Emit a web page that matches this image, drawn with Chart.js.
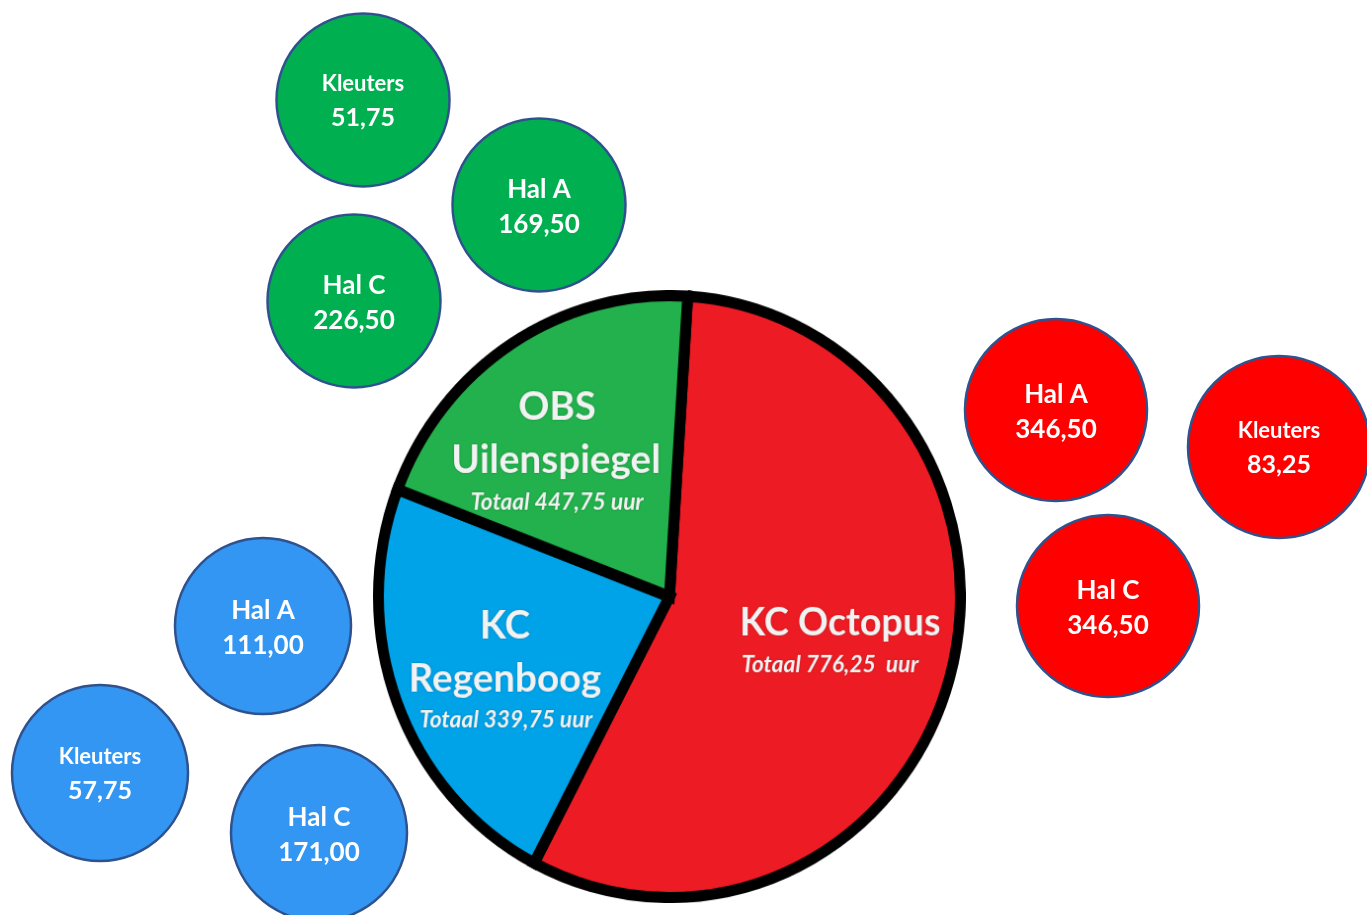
<!DOCTYPE html>
<html><head><meta charset="utf-8">
<script src="https://cdn.jsdelivr.net/npm/chart.js@4.4.1/dist/chart.umd.min.js"></script>
<style>
html,body{margin:0;padding:0;background:#fff;overflow:hidden;width:1367px;height:915px}
#bub{position:absolute;left:0;top:0}
#pieWrap{position:absolute;left:373px;top:290px;width:600px;height:600px;transform-origin:0 0;transform:scale(0.988,1.022)}
</style></head><body>
<canvas id="bub" width="1367" height="915"></canvas>
<div id="pieWrap"><canvas id="pie" width="600" height="600"></canvas></div>
<script>
// ---- data ----
const schools = ['KC Octopus', 'KC Regenboog', 'OBS Uilenspiegel'];
const schoolTotals = [776.25, 339.75, 447.75];          // uur, as labelled
const sliceShares = [56.7, 23.1, 20.2];                  // slice sizes as drawn (%)

const octopusNames = ['Hal A', 'Kleuters', 'Hal C'];
const octopusHours = [346.50, 83.25, 346.50];
const regenboogNames = ['Hal A', 'Kleuters', 'Hal C'];
const regenboogHours = [111.00, 57.75, 171.00];
const uilenNames = ['Kleuters', 'Hal A', 'Hal C'];
const uilenHours = [51.75, 169.50, 226.50];

// ---- layout (bubble placement on the page) ----
const octopusX = [1056, 1279, 1108], octopusY = [410, 447, 606], octopusR = [91, 91, 91];
const regenboogX = [263, 100, 319], regenboogY = [626, 773, 833], regenboogR = [88, 88, 88];
const uilenX = [363, 539, 354], uilenY = [100, 205, 301], uilenR = [86.5, 86.5, 86.5];

const fmt = v => v.toFixed(2).replace('.', ',');
const FONT = 'Lato, "Open Sans", sans-serif';

function pts(xs, ys, rs){ return xs.map((x,i)=>({x:x, y:ys[i], r:rs[i]})); }

const bubbleText = {
  id: 'bubbleText',
  afterDatasetsDraw(chart){
    const ctx = chart.ctx;
    chart.data.datasets.forEach((ds, di) => {
      const meta = chart.getDatasetMeta(di);
      meta.data.forEach((el, i) => {
        const name = ds.names[i];
        const small = name === 'Kleuters';
        ctx.save();
        ctx.fillStyle = '#ffffff';
        ctx.textAlign = 'center';
        ctx.textBaseline = 'alphabetic';
        ctx.font = 'bold ' + (small ? 22 : 26) + 'px ' + FONT;
        ctx.fillText(name, el.x, el.y + (small ? -9 : -7));
        ctx.font = 'bold ' + (small ? 25 : 26) + 'px ' + FONT;
        ctx.fillText(fmt(ds.hours[i]), el.x, el.y + (small ? 26 : 28));
        ctx.restore();
      });
    });
  }
};

const borderBlue = '#2f528f';
new Chart(document.getElementById('bub'), {
  type: 'bubble',
  data: {
    datasets: [
      {label: schools[2], names: uilenNames, hours: uilenHours, data: pts(uilenX, uilenY, uilenR),
       backgroundColor: '#00b050', borderColor: borderBlue, borderWidth: 2.5},
      {label: schools[0], names: octopusNames, hours: octopusHours, data: pts(octopusX, octopusY, octopusR),
       backgroundColor: '#ff0000', borderColor: borderBlue, borderWidth: 2.5},
      {label: schools[1], names: regenboogNames, hours: regenboogHours, data: pts(regenboogX, regenboogY, regenboogR),
       backgroundColor: '#3396f2', borderColor: borderBlue, borderWidth: 2.5}
    ]
  },
  options: {
    responsive: false, animation: false, devicePixelRatio: 1,
    layout: {padding: 0, autoPadding: false},
    clip: false,
    scales: {
      x: {type: 'linear', min: 0, max: 1367, display: false},
      y: {type: 'linear', min: 0, max: 915, reverse: true, display: false}
    },
    plugins: {legend: {display: false}, tooltip: {enabled: false}},
    events: []
  },
  plugins: [bubbleText]
});

// pie labels (page coordinates, converted to pie canvas coordinates)
const PX = 373, PY = 290, SX = 0.988, SY = 1.022;
const pieLabels = [
  // [text, pageX, baselineY, size, italic]
  ['KC Octopus', 840, 635, 38, false],
  ['Totaal ' + fmt(schoolTotals[0]) + '  uur', 830, 672, 23, true],
  ['KC', 505, 638, 39, false],
  ['Regenboog', 505, 692, 39, false],
  ['Totaal ' + fmt(schoolTotals[1]) + ' uur', 506, 727, 23, true],
  ['OBS', 557, 420, 39, false],
  ['Uilenspiegel', 556, 473, 39, false],
  ['Totaal ' + fmt(schoolTotals[2]) + ' uur', 557, 510, 23, true]
];
const pieText = {
  id: 'pieText',
  afterDatasetsDraw(chart){
    const ctx = chart.ctx;
    ctx.save();
    ctx.textAlign = 'center';
    ctx.textBaseline = 'alphabetic';
    ctx.fillStyle = '#f2f2f2';
    ctx.shadowColor = 'rgba(0,0,0,0.25)';
    ctx.shadowBlur = 2;
    pieLabels.forEach(([t, x, y, s, it]) => {
      ctx.font = (it ? 'italic ' : '') + 'bold ' + s + 'px ' + FONT;
      ctx.fillText(t, (x - PX) / SX, (y - PY) / SY);
    });
    ctx.restore();
  }
};

new Chart(document.getElementById('pie'), {
  type: 'pie',
  data: {
    labels: schools,
    datasets: [{
      data: sliceShares,
      backgroundColor: ['#ed1c24', '#00a2e8', '#22b14c'],
      borderColor: '#000000',
      borderWidth: 11,
      borderJoinStyle: 'miter'
    }]
  },
  options: {
    responsive: false, animation: false, devicePixelRatio: 1,
    rotation: 3.6,
    layout: {padding: 0},
    plugins: {legend: {display: false}, tooltip: {enabled: false}},
    events: []
  },
  plugins: [pieText]
});
</script>
</body></html>
